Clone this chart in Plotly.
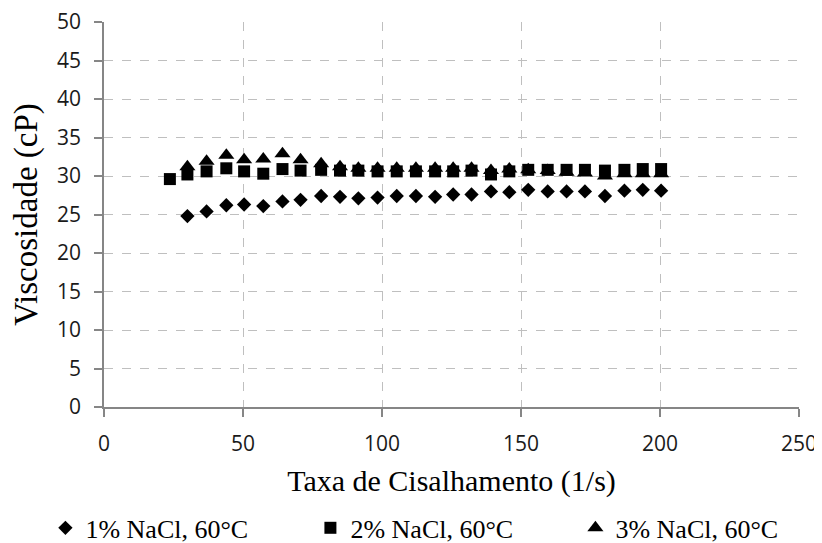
import plotly.graph_objects as go

shear = [30.0, 36.9, 44.0, 50.4, 57.3, 64.2, 70.7, 78.1, 84.9, 91.5, 98.4, 105.3, 112.2,
         119.1, 125.6, 132.2, 139.2, 145.8, 152.6, 159.6, 166.4, 173.0, 180.2, 187.2, 193.8, 200.4]
shear_2 = [23.7] + shear

visc_1 = [24.8, 25.4, 26.2, 26.3, 26.1, 26.7, 26.9, 27.4, 27.3, 27.1, 27.2, 27.4, 27.4,
          27.3, 27.6, 27.6, 28.0, 27.9, 28.2, 28.0, 28.0, 28.0, 27.4, 28.1, 28.2, 28.1]
visc_2 = [29.6, 30.2, 30.6, 31.0, 30.6, 30.3, 30.9, 30.7, 30.8, 30.7, 30.7, 30.6, 30.6, 30.6,
          30.6, 30.6, 30.7, 30.2, 30.6, 30.8, 30.8, 30.8, 30.8, 30.7, 30.8, 30.9, 30.9]
visc_3 = [31.2, 31.9, 32.7, 32.1, 32.2, 32.9, 32.1, 31.6, 31.2, 31.0, 31.0, 31.0, 31.0,
          31.0, 31.0, 31.0, 30.7, 30.9, 30.8, 30.7, 30.5, 30.4, 30.0, 30.3, 30.3, 30.3]

names = ["1% NaCl, 60°C", "2% NaCl, 60°C", "3% NaCl, 60°C"]

x_ticks = [0, 50, 100, 150, 200, 250]
y_ticks = [0, 5, 10, 15, 20, 25, 30, 35, 40, 45, 50]

fig = go.Figure()
fig.add_trace(go.Scatter(x=shear, y=visc_1, mode="markers", name=names[0],
                         marker=dict(symbol="diamond", size=11, color="black")))
fig.add_trace(go.Scatter(x=shear_2, y=visc_2, mode="markers", name=names[1],
                         marker=dict(symbol="square", size=12, color="black")))
fig.add_trace(go.Scatter(x=shear, y=visc_3, mode="markers", name=names[2],
                         marker=dict(symbol="triangle-up", size=14, color="black")))

axis_common = dict(
    showline=True, linecolor="#868686", linewidth=1.5,
    showgrid=True, gridcolor="#bfbfbf", griddash="dash", gridwidth=1,
    ticks="outside", ticklen=8, tickcolor="#868686", tickwidth=1.5,
    tickfont=dict(family="Open Sans", size=21, color="#1a1a1a"),
    ticklabeloverflow="allow",
    zeroline=False, mirror=False,
)

fig.update_xaxes(range=[0, 250], tickvals=x_ticks, ticktext=[str(v) for v in x_ticks],
                 ticklabelstandoff=9,
                 title=dict(text="Taxa de Cisalhamento (1/s)",
                            font=dict(family="Liberation Serif", size=30, color="black"),
                            standoff=14),
                 **axis_common)
fig.update_yaxes(range=[0, 50], tickvals=y_ticks, ticktext=[str(v) for v in y_ticks],
                 ticklabelstandoff=9,
                 title=dict(text="Viscosidade (cP)",
                            font=dict(family="Liberation Serif", size=33, color="black"),
                            standoff=10),
                 **axis_common)

# the page body has an 8px margin, so the figure is sized/offset to compensate
fig.update_layout(
    width=814, height=535,
    margin=dict(l=96, r=23, t=14, b=136, autoexpand=False),
    paper_bgcolor="white", plot_bgcolor="white",
    showlegend=True,
    legend=dict(orientation="h", x=-0.0843, xanchor="left", y=-0.314, yanchor="middle",
                entrywidth=220, entrywidthmode="pixels",
                font=dict(family="Liberation Serif", size=26, color="black"),
                itemwidth=30, tracegroupgap=0),
)

fig.write_html("out.html")
